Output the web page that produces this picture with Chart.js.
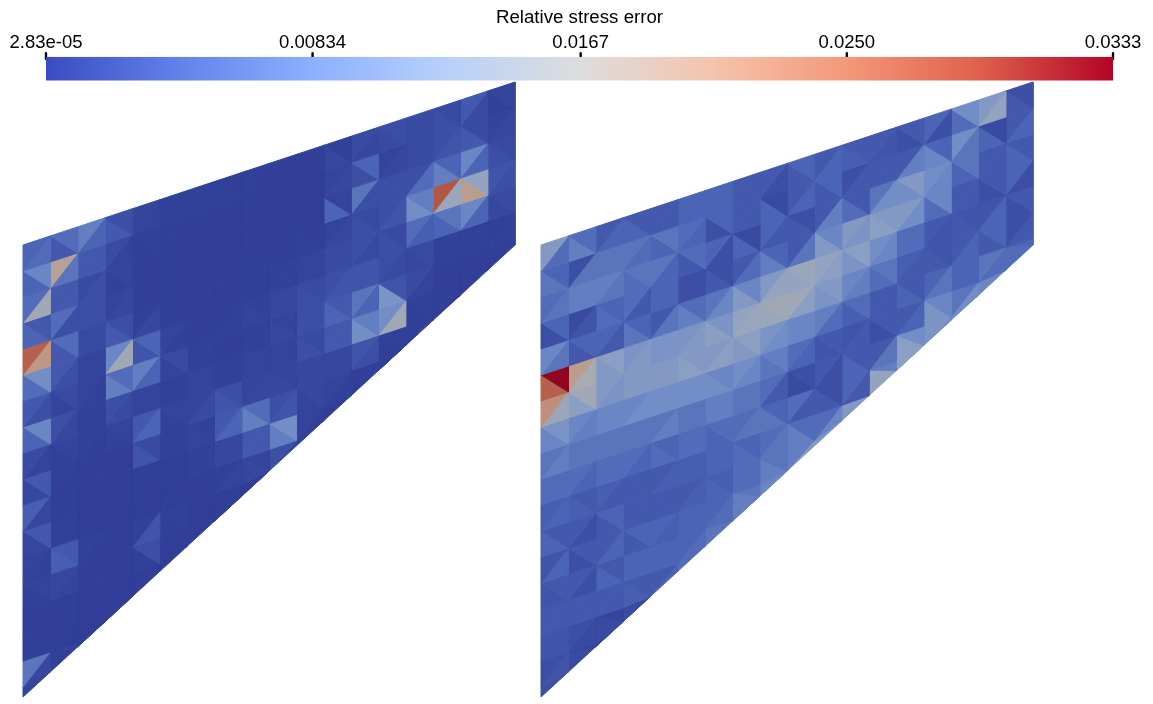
<!DOCTYPE html>
<html>
<head>
<meta charset="utf-8">
<title>Relative stress error</title>
<script src="https://cdn.jsdelivr.net/npm/chart.js@4"></script>
<style>
  html, body { margin: 0; padding: 0; background: #fff; overflow: hidden; }
  canvas { position: absolute; left: 0; top: 0; }
  #mesh { filter: blur(0.7px); }
</style>
</head>
<body>
<canvas id="mesh" width="1153" height="704"></canvas>
<canvas id="bar" width="1153" height="130"></canvas>
<script>
const barTitle = 'Relative stress error';
const barMin = 2.83e-5;
const barMax = 0.0333;
const tickValues = [2.83e-5, 0.00834, 0.0167, 0.0250, 0.0333];
const tickLabels = ['2.83e-05', '0.00834', '0.0167', '0.0250', '0.0333'];

// matplotlib coolwarm, sampled
const coolwarm = [[59,76,192],[98,130,234],[141,176,254],[184,208,249],[221,221,221],[244,196,173],[244,152,122],[222,96,77],[180,4,38]];

// element errors in units of 1e-3.
// one list per mesh row, two triangles per column, left to right
const leftErr = [
  [4,5, 5,3, 7,4, 2,3, 1,.8, .5,.5, .5,.5, .4,.5, .5,.4, .4,.4, .4,.4, .5,1.2, 1.5,1.2, 1.8,1.5, 1.5,1.5, 1.5,2, 3,1.5, 1,.6],
  [8,4, 19,6, 3,3, 1.5,.8, .5,.4, .4,.4, .4,.4, .4,.3, .3,.4, .3,.4, .3,.3, .8,1.2, 4,2, .8,1.2, 1.5,1.5, 2,2.5, 1.5,3, .8,1.2],
  [5,15, 3,3, 1.5,2, 1,.6, .4,.4, .4,.4, .3,.3, .3,.4, .4,.4, .4,.3, .3,.3, .8,4, 6,2, 2,2, 2,5, 4,7, 8,4, 1.5,2],
  [3,4, 5,2, 2,2, .8,1.2, .4,.4, .4,.4, .4,.4, .4,.4, .4,.4, .4,.4, .4,.5, .8,1.2, 1.5,2, 2,2.5, 7,9, 28,14, 13,20, 2.5,2],
  [27,21, 5,3, 1.5,1.5, 2,3, .5,1.2, .4,.4, .4,.4, .4,.4, .4,.4, .6,.6, .8,.8, 1.5,1.5, 2,1.5, 1.5,2, 5,3.5, 6,4, 8,4, 1.5,1.2],
  [9,5, 3,2, 1,.8, 8,15, 4,2.5, .8,.5, .4,.4, .4,.5, .6,.8, 1.2,1.2, 1.5,1.8, 2,2.5, 2.5,2.5, 1.8,1.5, 1.5,1.2, .6,.5, .5,.5, .4,.5],
  [3,2, 1.5,.8, .8,.6, 5,7, 7,4, 1.5,.8, .5,.5, .4,.4, .5,.5, .8,1.2, 2,2, 3,4, 6,4, 2.5,10, 1.5,.8, .4,.4, .4,.4, .4,.4],
  [8,4, 2,1.2, .6,.5, 2,1.5, 1,.8, .5,.5, .8,.8, .5,.6, .8,.8, .8,.8, 1.5,2, 3,3, 7,9, 9,15, .5,.4, .4,.4, .4,.4],
  [1.5,.8, .8,.5, .5,.4, .8,.6, 3,4, .8,.6, 1,1.5, 2,2.5, 1,1.2, 1,1.2, 1.2,1.2, 1.2,1.2, 2.5,2, .5,.4, .4,.4, .4,.4],
  [3,1.2, .5,.4, .4,.4, .4,.4, 1.5,2.5, .5,.5, .6,.8, 3,4, 5,7, 2,2.5, 1.2,.8, .8,.6, .5,.4, .4,.4],
  [3.5,1.2, .4,.4, .3,.4, .3,.3, .4,.4, .3,.4, .5,.6, 1.2,1.2, 3,3, 9,7, .8,.5, .4,.4],
  [3,1.2, .5,.5, .3,.3, .3,.3, .3,.3, .3,.3, .4,.4, .5,.8, 1,1.2, 2,1.2, .5,.5],
  [.8,.6, 3,3.5, .5,.4, .3,.4, .5,2.5, .5,.4, .3,.3, .3,.3, .3,.3],
  [.8,.5, 1.2,1, .4,.4, .3,.4, 2,.5, .3,.3, .3,.3, .3,.3],
  [.4,.4, .4,.3, .3,.3, .3,.3, .3,.3, .3,.3],
  [.4,.4, .4,.3, .3,.3, .3,.3],
  [6,1.2, .8,.5, .4,.4],
  [1.2,.8]
];

const rightErr = [
  [11,5, 5,7, 3,4, 3,4, 3,3, 4,4, 4,4, 3,3, 3,2, 4,3, 3,4, 3,3.5, 3,2.5, 3,2, 4,2, 9,5, 11,13, 2,3],
  [4,6, 2,6, 6,6, 6,5, 6,4, 5,4, 4,2, 3,3, 1.5,4, 3,4, 4,3, 2,3, 3,3, 3,7, 4,8, 9,6, 1.5,4, 3,4],
  [5,6, 7,7, 7,6, 6,5, 6,4, 5,3, 4,2, 1.5,4, 4,3, 2,3, 3,7, 3,5, 6,9, 11,9, 9,8, 6,4, 3,3, 3,4],
  [4,2, 1.5,2.5, 4,5, 5,3, 4,4, 2,2, 2,3, 3,5, 4,7, 3,6, 8,11, 11,10, 11,12, 11,9, 8,5, 3,3, 3,2, 4,2],
  [8,6, 4,3, 4,3, 4,6, 3,6, 5,7, 6,8, 8,11, 11,13, 14,13, 13,12, 12,10, 9,8, 5,5, 3,2.5, 2.5,3, 2.5,4, 3,2],
  [33,27, 20,16, 12,11, 10,11, 10,10, 10,11, 10,12, 13,14, 15,14, 15,12, 11,10, 8,7, 6,5, 3.5,3, 2.5,3, 3,4, 4,3, 2,3],
  [22,14, 15,12, 11,10, 11,11, 11,11, 11,12, 11,12, 12,11, 10,9, 8,8, 7,5, 5,3.5, 3,3, 3,4, 4,6, 4,4, 6,5, 4,5],
  [10,8, 8,7, 8,8, 8,9, 9,9, 9,9, 8,9, 9,8, 7,6, 5,4, 3,2.5, 2.5,3, 3,2, 3,4, 8,10, 6,9, 6,8],
  [6,7, 6,6, 6,6, 6,6, 6,7, 6,6, 7,7, 6,6, 5,3, 2,1.5, 3,2, 3,4, 3,6, 9,12, 10,8, 7,9],
  [5,5, 5,4, 5,5, 5,4, 4,5, 5,5, 5,4, 5,6, 4,6, 5,3, 2,3, 4,3, 7,13, 12,12],
  [3.5,4, 3,3.5, 3.5,3, 3,3, 3,3.5, 3.5,3.5, 4,4, 4,5, 5,6, 5,7, 5,8, 13,11],
  [3,4, 3,2, 4,3, 3,3, 3,3, 3,3.5, 3.5,4, 5,5, 6,7, 7,11, 12,10],
  [2.5,4, 3,2, 3,4, 4,3, 4,3.5, 4,4, 4,5, 6,7, 8,9],
  [3,2.5, 3,2, 3,4, 4,4, 4,4, 4,5, 5,6, 7,8],
  [3,3, 3,3, 3,3, 3,3.5, 3,4, 4,5],
  [2.5,2.5, 2,1.5, 1,1.5, 1.5,3],
  [2,2.5, 1,1.5, 1,2],
  [2,2]
];

function colorFor(t, shade) {
    t = Math.min(1, Math.max(0, t)) * (coolwarm.length - 1);
    const lo = Math.min(Math.floor(t), coolwarm.length - 2);
    const f = t - lo;
    const rgb = coolwarm[lo].map((c, n) => Math.round((c + (coolwarm[lo + 1][n] - c) * f) * shade));
    return `rgb(${rgb[0]},${rgb[1]},${rgb[2]})`;
}

// the plate outline, the mesh rows run parallel to its top edge
const columns = 18;
const panelWidth = 492;
const rowHeight = 26;

function node(left, i, k) {
    const t = i / columns;
    const top = 245 - 163 * t;
    const bottom = 697 - 452 * t;
    return { x: left + panelWidth * t, y: Math.min(top + rowHeight * k, bottom) };
}

function triangle(pts, value) {
    const color = colorFor((value / 1000 - barMin) / (barMax - barMin), 0.78);
    return {
        data: [pts[0], pts[1], pts[2], pts[0]],
        showLine: true,
        fill: 'shape',
        backgroundColor: color,
        borderColor: color,
        borderWidth: 1,
        pointRadius: 0,
        tension: 0
    };
}

function panelDatasets(left, rows) {
    const sets = [];
    rows.forEach((row, k) => {
        for (let i = 0; i < row.length / 2; i++) {
            const a = node(left, i, k), b = node(left, i + 1, k);
            const c = node(left, i, k + 1), d = node(left, i + 1, k + 1);
            if ((i + k) % 2 === 0) {
                sets.push(triangle([a, b, c], row[2 * i]));
                sets.push(triangle([b, d, c], row[2 * i + 1]));
            } else {
                sets.push(triangle([a, b, d], row[2 * i]));
                sets.push(triangle([a, d, c], row[2 * i + 1]));
            }
        }
    });
    return sets;
}

new Chart(document.getElementById('mesh'), {
    type: 'scatter',
    data: { datasets: [...panelDatasets(23, leftErr), ...panelDatasets(541, rightErr)] },
    options: {
        responsive: false,
        animation: false,
        events: [],
        layout: { padding: 0 },
        plugins: { legend: { display: false }, tooltip: { enabled: false } },
        scales: {
            x: { type: 'linear', min: 0, max: 1153, display: false },
            y: { type: 'linear', min: 0, max: 704, reverse: true, display: false }
        }
    }
});

// colour bar, ticks poke into the top of it.
// canvas runs past the bar because chart.js caps a top axis at half the height
const barCanvas = document.getElementById('bar');
const barFill = barCanvas.getContext('2d').createLinearGradient(46, 0, 1113, 0);
coolwarm.forEach((c, n) => barFill.addColorStop(n / (coolwarm.length - 1), colorFor(n / (coolwarm.length - 1), 1)));

new Chart(barCanvas, {
    type: 'scatter',
    data: {
        datasets: [
            {
                data: [{ x: barMin, y: 0 }, { x: barMax, y: 0 }, { x: barMax, y: 24 }, { x: barMin, y: 24 }, { x: barMin, y: 0 }],
                showLine: true,
                fill: 'shape',
                backgroundColor: barFill,
                borderWidth: 0,
                pointRadius: 0
            },
            ...tickValues.map(v => ({
                data: [{ x: v, y: -3.5 }, { x: v, y: 2.5 }],
                showLine: true,
                borderColor: '#000',
                borderWidth: 2.4,
                borderCapStyle: 'round',
                pointRadius: 0,
                clip: false
            }))
        ]
    },
    options: {
        responsive: false,
        animation: false,
        events: [],
        layout: { padding: { left: 46, right: 40, bottom: 0, top: 0 } },
        plugins: { legend: { display: false }, tooltip: { enabled: false } },
        scales: {
            x: {
                type: 'linear',
                position: 'top',
                min: barMin,
                max: barMax,
                border: { display: false },
                grid: { display: false, drawTicks: false },
                afterBuildTicks: axis => { axis.ticks = tickValues.map(value => ({ value })); },
                title: {
                    display: true,
                    text: barTitle,
                    color: '#000',
                    font: { family: 'Liberation Sans', size: 18.7 },
                    padding: { top: 7, bottom: 0 }
                },
                ticks: {
                    autoSkip: false,
                    maxRotation: 0,
                    color: '#000',
                    padding: 2.5,
                    font: { family: 'Liberation Sans', size: 18.5 },
                    callback: (value, index) => tickLabels[index]
                }
            },
            y: { type: 'linear', min: 0, max: 74, reverse: true, display: false }
        }
    }
});
</script>
</body>
</html>
